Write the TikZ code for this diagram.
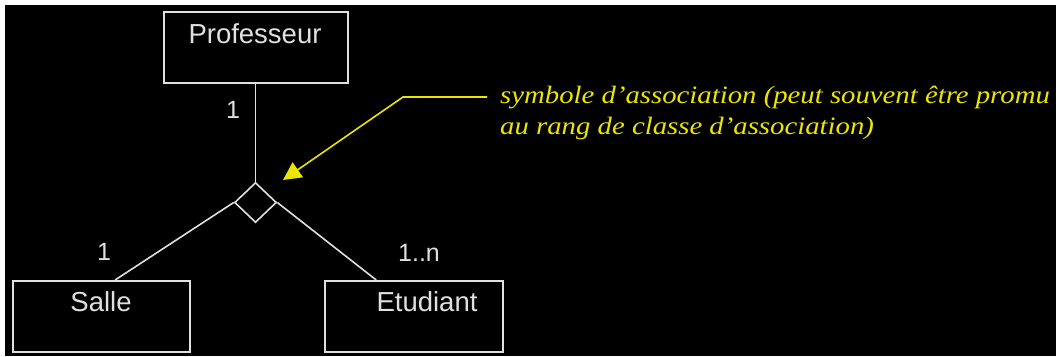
\documentclass[tikz,border=0pt]{standalone}
\usepackage{fontspec}
\setmainfont{Liberation Sans}
\newfontfamily\notefont{Liberation Serif}
\usetikzlibrary{shapes.geometric,arrows.meta,calc}
\definecolor{umlline}{rgb}{0.88,0.88,0.88}
\definecolor{noteyellow}{rgb}{0.92,0.90,0.0}
\tikzset{
  classbox/.style={draw=umlline, line width=2pt, rectangle, minimum width=#1, minimum height=71pt, inner sep=0pt},
  classname/.style={text=umlline, font=\fontsize{27.5}{30}\selectfont, inner sep=0pt, anchor=center},
  mult/.style={text=umlline, font=\fontsize{25}{28}\selectfont, inner sep=0pt},
  link/.style={draw=umlline, line width=1.6pt},
  notetext/.style={text=noteyellow, font=\notefont\itshape\fontsize{25}{31}\selectfont, align=left, inner sep=0pt, anchor=north west, xscale=1.15, transform shape},
  notearrow/.style={draw=noteyellow, line width=1.6pt, -{Triangle[length=18pt,width=18pt]}}
}
\begin{document}
\begin{tikzpicture}[x=1pt,y=-1pt]
\useasboundingbox (0,0) rectangle (1056,356);
\fill[white] (0,0) rectangle (1056,356);
\fill[black] (5,5) rectangle (1056,356);
% classes
\node[classbox=184pt] (prof) at (255.5,47.5) {};
\node[classname] (profname) at (255,34) {Professeur};
\node[classbox=177pt] (salle) at (101.5,316.5) {};
\node[classname] (sallename) at (101,302) {Salle};
\node[classbox=178pt] (etud) at (414,316.5) {};
\node[classname] (etudname) at (427,302) {Etudiant};
% association diamond
\node[draw=umlline, line width=1.6pt, diamond, minimum width=42pt, minimum height=40pt, inner sep=0pt] (assoc) at (255.5,202.5) {};
% links
\draw[link] (prof.south) -- (assoc.north);
\draw[link] (assoc.west) -- ($(salle.north west)!0.576!(salle.north east)$);
\draw[link] (assoc.east) -- ($(etud.north west)!0.29!(etud.north east)$);
% multiplicities
\node[mult] (m1) at (233,110) {1};
\node[mult] (m2) at (104,252) {1};
\node[mult] (m3) at (419,253) {1..n};
% note
\node[notetext] (note) at (500,86) {symbole d’association (peut souvent être promu\\au rang de classe d’association)};
\coordinate (nstart) at (487,97);
\coordinate (nbend) at (403,97);
\coordinate (ntip) at (283,180);
\draw[notearrow] (nstart) -- (nbend) -- (ntip);
\end{tikzpicture}
\end{document}
